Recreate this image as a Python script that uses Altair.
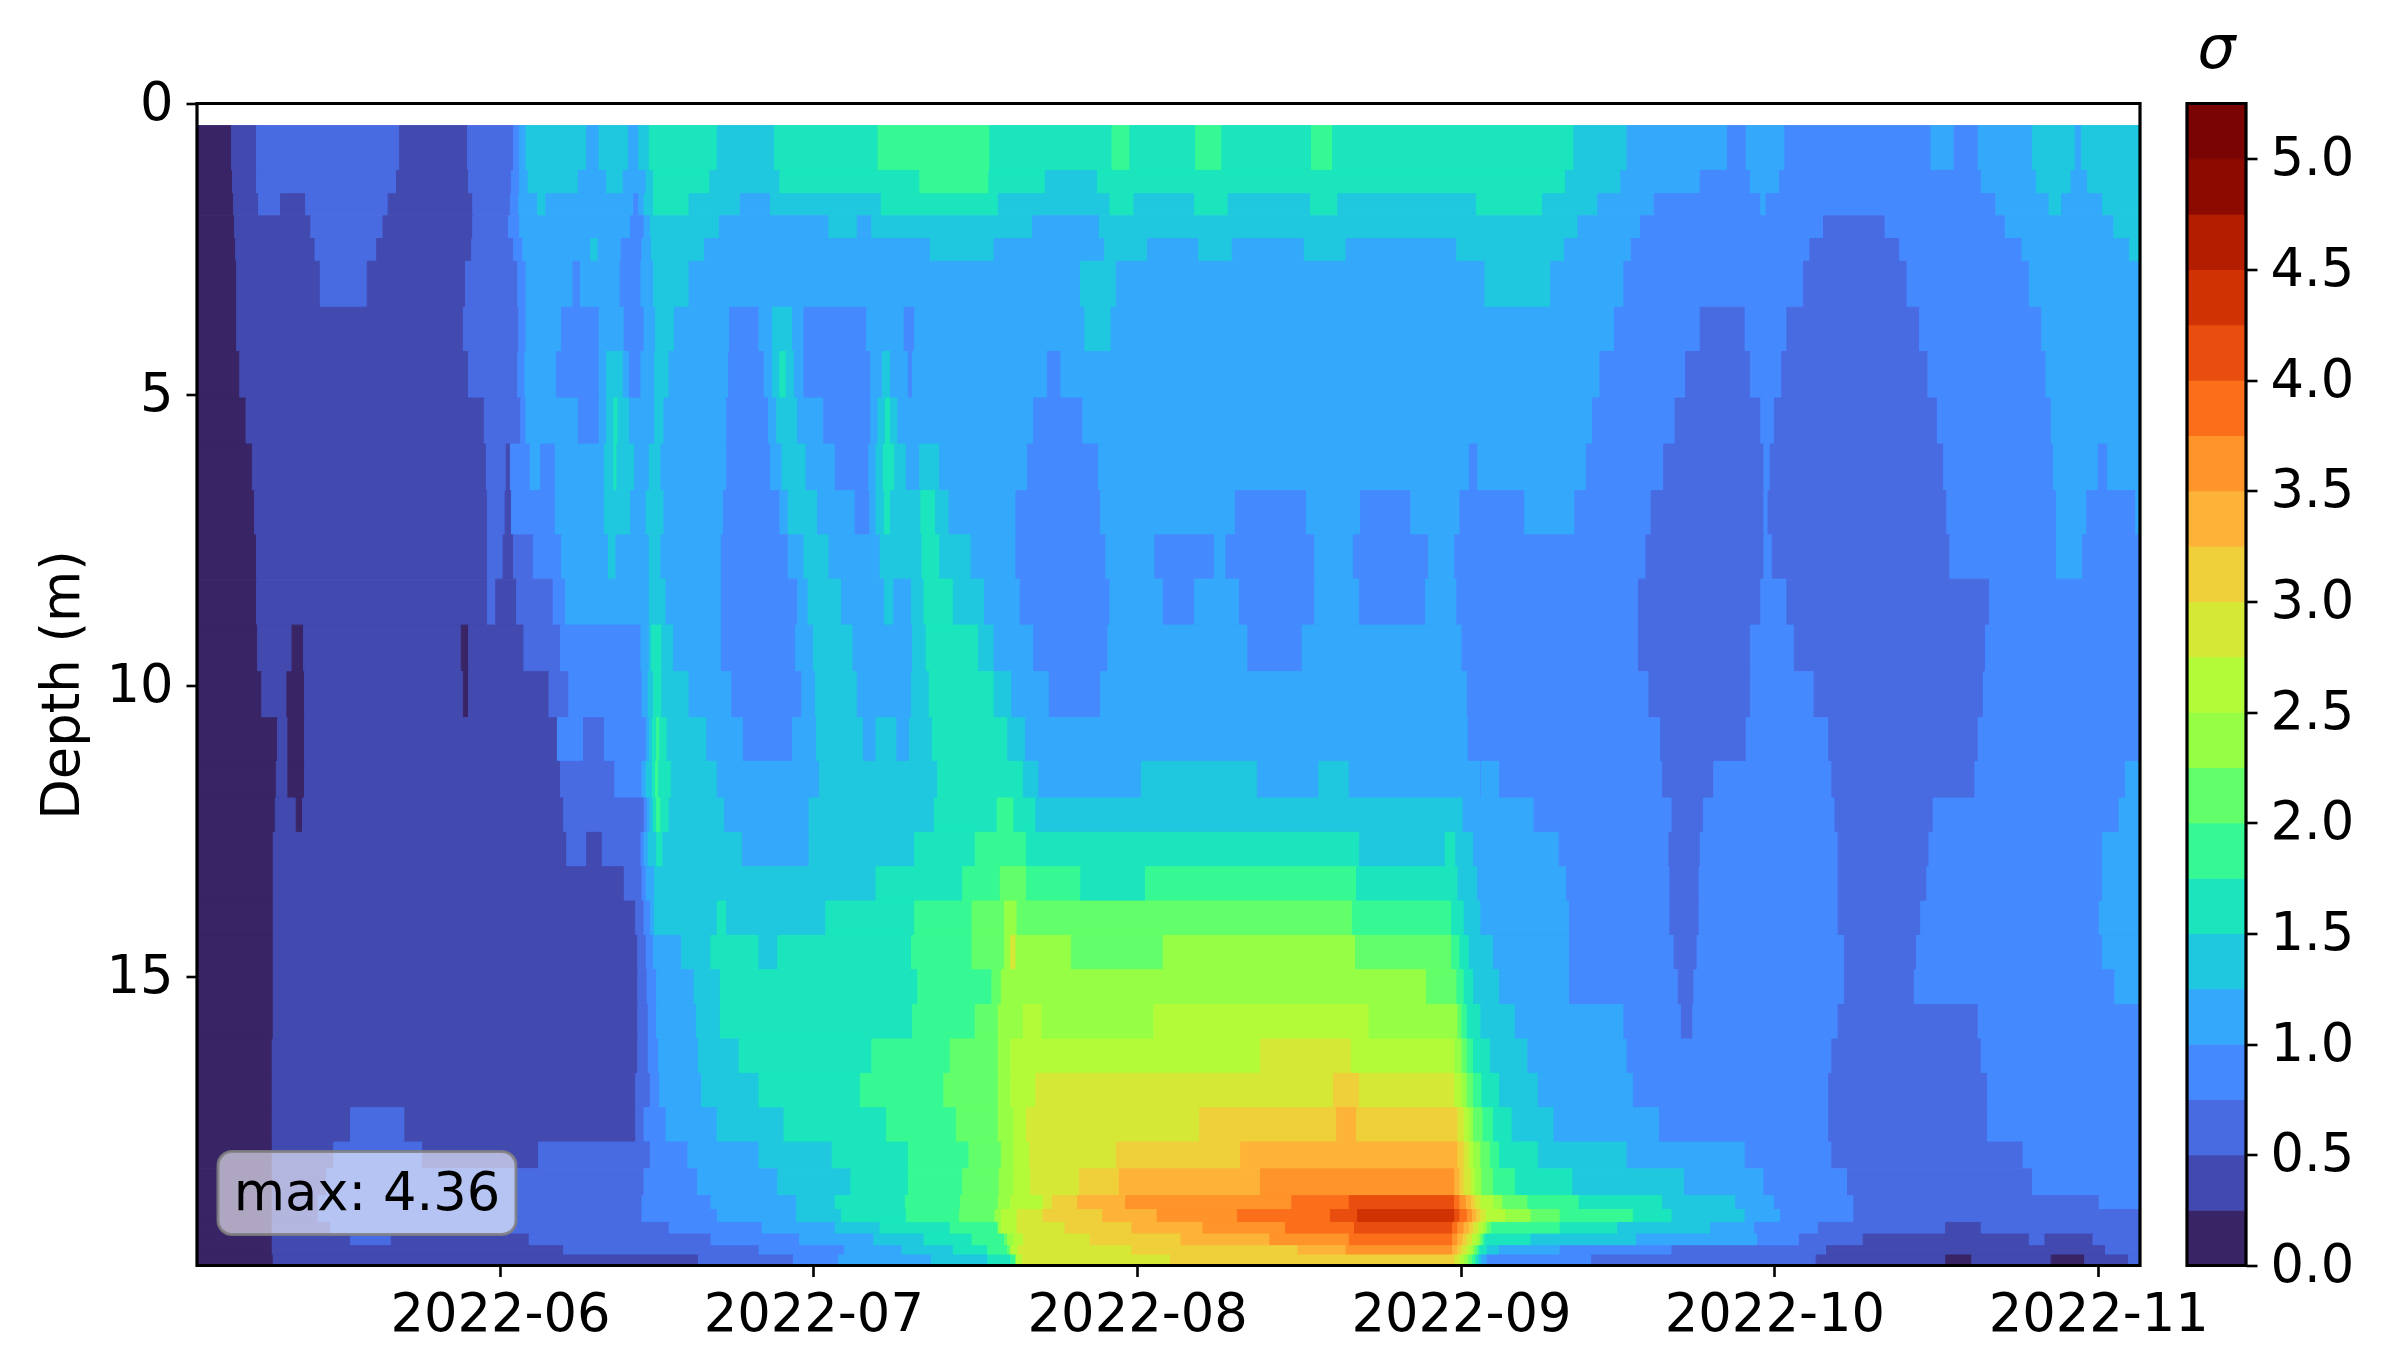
import altair as alt
import pandas as pd

START = pd.Timestamp("2022-05-03")
END_DAY = 186.0
MONTH_TICKS = ["2022-06-01T00:00:00", "2022-07-01T00:00:00", "2022-08-01T00:00:00",
               "2022-09-01T00:00:00", "2022-10-01T00:00:00", "2022-11-01T00:00:00"]
DEPTH_TICKS = [0, 5, 10, 15]
SIGMA_TICKS = [0.0, 0.5, 1.0, 1.5, 2.0, 2.5, 3.0, 3.5, 4.0, 4.5, 5.0]
LEVELS = [0.25 * i for i in range(22)]
COLORS = ["#392566", "#424AB0", "#486BE2", "#4589FF", "#34A8FA", "#1FC8DE", "#1BE5BC",
          "#37F994", "#63FF6A", "#96FF45", "#B3FB38", "#D5E836", "#EFCF3A", "#FDB337",
          "#FE942A", "#FB6F1B", "#E94E0E", "#D03204", "#B41E00", "#8D0A00", "#7A0403"]
MAX_LABEL = "max: 4.36"

DEPTH_EDGES = [0.38, 1.15, 1.55, 1.93, 2.32, 2.71, 3.50, 4.26, 5.06, 5.85, 6.65, 7.41, 8.17, 8.96, 9.76,
               10.55, 11.30, 11.93, 12.52, 13.11, 13.70, 14.29, 14.88, 15.48, 16.07, 16.66,
               17.25, 17.84, 18.30, 18.76, 19.00, 19.22, 19.42, 19.62, 19.78, 19.96]

# each profile: (sigma, day on which that value stops), days counted from 2022-05-03
p00 = [(.12,3.3),(.37,5.7),(.62,19.4),(.37,25.9),(.62,30.3),(.87,30.9),(1.12,31.5),(1.37,37.3),(1.12,38.5),(1.37,41.3),(1.12,42.3),(1.37,43.3),(1.62,49.8),(1.37,55.3),(1.62,65.2),(1.87,75.9),(1.62,87.6),(1.87,89.3),(1.62,95.6),(1.87,98.1),(1.62,106.7),(1.87,108.7),(1.62,131.8),(1.37,136.9),(1.12,146.5),(.87,148.3),(1.12,152),(.87,166),(1.12,168.2),(.87,170.5),(1.12,175.7),(1.37,179.8),(1.12,180.4),(1.37,186)]
p01a = [(.12,3.4),(.37,5.7),(.62,19.1),(.37,26),(.62,30.1),(.87,30.9),(1.12,31.7),(1.37,36.5),(1.12,39.2),(1.37,40.8),(1.12,43),(1.37,43.7),(1.62,49.1),(1.37,55.8),(1.62,69.2),(1.87,75.8),(1.62,81.2),(1.37,86.2),(1.62,131),(1.37,136.3),(1.12,143.9),(.87,148.7),(1.12,151.5),(.87,170.8),(1.12,176.1),(1.37,179.4),(1.12,181),(1.37,186)]
p01b = [(.12,3.5),(.37,5.9),(.62,8),(.37,10.4),(.62,18.3),(.37,26.4),(.62,30),(.87,30.8),(1.12,32.6),(1.37,33.4),(1.12,41.8),(.87,42.3),(1.12,42.8),(1.37,43.7),(1.62,47.1),(1.37,52),(1.12,54.9),(1.37,65.5),(1.62,76.7),(1.37,87.4),(1.62,89.7),(1.37,95.5),(1.62,98.7),(1.37,106.6),(1.62,109.2),(1.37,122.5),(1.62,128.8),(1.37,134.1),(1.12,139.5),(.87,149.7),(1.12,150.2),(.87,172.2),(1.12,177.3),(1.37,178.5),(1.12,182.4),(1.37,186)]
p02a = [(.12,3.6),(.37,10.9),(.62,17.8),(.37,26.4),(.62,29.8),(.87,30.9),(1.12,41.5),(.87,42.8),(1.12,43.4),(1.37,50),(1.12,60.5),(1.37,63.2),(1.12,64.6),(1.37,80),(1.12,86.4),(1.37,132.2),(1.12,138.2),(.87,155.7),(.62,161.6),(.87,173.1),(1.12,183.5),(1.37,186)]
p02b = [(.12,3.7),(.37,11.3),(.62,17.2),(.37,26.3),(.62,30.3),(.87,31.2),(1.12,37.7),(1.37,38.4),(1.12,40.6),(.87,42.6),(1.12,43.5),(1.37,48.6),(1.12,70.2),(1.37,76.3),(1.12,86.9),(1.37,91),(1.12,95.9),(1.37,99.1),(1.12,106),(1.37,110),(1.12,120.6),(1.37,130.9),(1.12,137.3),(.87,154.4),(.62,163),(.87,174.7),(1.12,185),(1.37,186)]
p03 = [(.12,3.8),(.37,11.8),(.62,16.3),(.37,25.7),(.62,30.7),(.87,31.5),(1.12,36),(.87,36.7),(1.12,40.5),(.87,42.5),(1.12,43.7),(1.37,47.1),(1.12,84.6),(1.37,88),(1.12,123.3),(1.37,129.6),(1.12,136.6),(.87,153.8),(.62,163.7),(.87,175.4),(1.12,186)]
p04 = [(.12,3.8),(.37,25.5),(.62,30.8),(.87,31.5),(1.12,34.9),(.87,38.5),(1.12,40.9),(.87,42.8),(1.12,43.9),(1.37,45.7),(1.12,51),(.87,53.8),(1.12,55.1),(1.37,57),(1.12,58.1),(.87,64.1),(1.12,67.7),(.87,68.7),(1.12,85),(1.37,87.5),(1.12,135.7),(.87,143.9),(.62,148.2),(.87,152.2),(.62,164.9),(.87,176.6),(1.12,186)]
p05 = [(.12,4.1),(.37,26),(.62,30.7),(.87,31.4),(1.12,34.4),(.87,38.5),(1.12,39.2),(1.37,40.8),(1.12,41.4),(.87,42.5),(1.12,43.8),(1.37,45.2),(1.12,50.9),(.87,54.3),(1.12,55.1),(1.37,55.8),(1.62,56.4),(1.37,57.2),(1.12,58.1),(.87,64.5),(1.12,65.6),(1.37,66.4),(1.12,68.1),(.87,68.5),(1.12,81.4),(.87,82.7),(1.12,134.3),(.87,142.5),(.62,148.7),(.87,151.7),(.62,165.7),(.87,177),(1.12,186)]
p06 = [(.12,4.7),(.37,27.5),(.62,31),(.87,31.5),(1.12,36.5),(.87,38.5),(1.12,39.2),(1.37,39.9),(1.62,40.3),(1.37,41.4),(1.12,43.8),(1.37,44.7),(1.12,50.7),(.87,54.7),(1.12,55.5),(1.37,57.5),(1.12,60),(.87,64.5),(1.12,65.2),(1.37,65.9),(1.62,66.4),(1.37,67.1),(1.12,80.1),(.87,84.8),(1.12,133.6),(.87,141.5),(.62,149.7),(.87,151),(.62,166.6),(.87,177.5),(1.12,186)]
p07 = [(.12,5.3),(.37,27.7),(.62,29.6),(.37,30),(.87,31.9),(1.12,32.9),(.87,34.3),(1.12,39),(1.37,39.9),(1.62,40.2),(1.37,41.9),(1.12,43.3),(1.37,44.4),(1.12,50.7),(.87,54.9),(1.12,56),(1.37,58.3),(1.12,61.1),(.87,64.3),(1.12,65),(1.37,65.7),(1.62,66.8),(1.37,67.9),(1.12,69.2),(1.37,71.1),(1.12,79.5),(.87,86.3),(1.12,121.8),(.87,122.6),(1.12,133),(.87,140.4),(.62,150),(.87,150.6),(.62,167.2),(.87,177.7),(1.12,182),(.87,182.9),(1.12,186)]
p08 = [(.12,5.5),(.37,27.8),(.62,29.5),(.37,30.1),(.87,34.3),(1.12,39),(1.37,41.5),(1.12,43),(1.37,44.7),(1.12,50.4),(.87,55.8),(1.12,56.6),(1.37,59.4),(1.12,63),(.87,64.4),(1.12,65),(1.37,65.8),(1.62,66.4),(1.37,69.3),(1.62,70.7),(1.37,72),(1.12,78.4),(.87,86.5),(1.12,99.4),(.87,106.2),(1.12,111.4),(.87,116.2),(1.12,120.9),(.87,127.1),(1.12,131.9),(.87,139.2),(.62,150),(.87,150.4),(.62,167.5),(.87,178),(1.12,180.9),(.87,185.6),(1.12,186)]
p09 = [(.12,5.7),(.37,27.8),(.62,29.3),(.37,30.3),(.62,32.2),(.87,34.9),(1.12,39.4),(1.37,40.1),(1.12,43.3),(1.37,44.4),(1.12,50.2),(.87,56.6),(1.12,58.1),(1.37,60.5),(1.12,65.4),(1.37,69.4),(1.62,71.1),(1.37,74.1),(1.12,78.4),(.87,87),(1.12,91.7),(.87,97.4),(1.12,98.5),(.87,107),(1.12,110.7),(.87,117.9),(1.12,120.4),(.87,138.7),(.62,150),(.87,150.8),(.62,167.8),(.87,178),(1.12,180.5),(.87,186)]
p10 = [(.12,5.7),(.37,27.8),(.62,28.6),(.37,30.6),(.62,34.1),(.87,35.3),(1.12,43.3),(1.37,44.9),(1.12,50.2),(.87,57.5),(1.12,58.5),(1.37,61.7),(1.12,65.8),(1.37,66.7),(1.12,68.4),(1.37,69.6),(1.62,72.4),(1.37,75.4),(1.12,78.8),(.87,87.4),(1.12,92.5),(.87,95.5),(1.12,99.8),(.87,107),(1.12,111.3),(.87,117.6),(1.12,120.6),(.87,138),(.62,149.7),(.87,152.2),(.62,171.6),(.87,186)]
p11 = [(.12,5.8),(.37,9.1),(.12,10.2),(.37,25.3),(.12,26),(.37,31.3),(.62,34.8),(.87,42.5),(1.12,43.3),(1.37,43.5),(1.62,44.5),(1.37,45.6),(1.12,50.2),(.87,57.3),(1.12,59),(1.37,62.8),(1.12,68.5),(1.37,69.8),(1.62,74.8),(1.37,76.3),(1.12,80.1),(.87,87.2),(1.12,100.6),(.87,105.8),(1.12,121.1),(.87,138),(.62,148.7),(.87,152.9),(.62,171.2),(.87,186)]
p12 = [(.12,6.2),(.37,8.6),(.12,10.3),(.37,25.5),(.12,26),(.37,33.7),(.62,35.6),(.87,42.6),(1.12,43.2),(1.37,43.7),(1.62,44.5),(1.37,47.1),(1.12,51.2),(.87,57.9),(1.12,59.2),(1.37,63.2),(1.12,68.4),(1.37,70.1),(1.62,76.3),(1.37,78),(1.12,81.6),(.87,86.5),(1.12,121.6),(.87,139),(.62,148.7),(.87,154.8),(.62,171),(.87,186)]
p13 = [(.12,7.7),(.37,8.7),(.12,10.3),(.37,34.5),(.87,37),(.62,39),(.87,43),(1.12,43.3),(1.37,43.6),(1.62,44),(1.87,44.3),(1.62,45),(1.37,48.8),(1.12,52.3),(.87,57),(1.12,59.3),(1.37,63.8),(1.12,65),(1.37,67),(1.12,68.2),(1.37,70.4),(1.62,77.6),(1.37,79.3),(1.12,121.7),(.87,140.1),(.62,148.3),(.87,156.2),(.62,170.5),(.87,186)]
p14 = [(.12,7.6),(.37,8.7),(.12,10.3),(.37,34.8),(.62,40),(.87,42.6),(1.12,43),(1.37,43.6),(1.62,43.9),(1.87,44.2),(1.62,45.4),(1.37,49.8),(1.12,59.6),(1.37,70.9),(1.62,79.1),(1.37,80.6),(1.12,90.4),(1.37,101.5),(1.12,107.4),(1.37,110.3),(1.12,122.9),(.87,122.95),(1.12,124.7),(.87,140.3),(.62,145.2),(.87,156.5),(.62,170.2),(.87,184.6),(1.12,186)]
p15 = [(.12,7.5),(.37,9.5),(.12,10.1),(.37,35.1),(.62,42.8),(.87,43.1),(1.12,43.4),(1.37,43.7),(1.62,44),(1.87,44.4),(1.62,45.2),(1.37,50.5),(1.12,58.6),(1.37,70.6),(1.62,76.6),(1.87,78.2),(1.62,80.3),(1.37,121.2),(1.12,128),(.87,141.2),(.62,144.2),(.87,156.8),(.62,166.2),(.87,184),(1.12,186)]
p16 = [(.12,7.3),(.37,35.4),(.62,37.3),(.37,38.8),(.62,42.5),(.87,42.8),(1.12,43.2),(1.37,44),(1.62,44.6),(1.37,52.2),(1.12,58.6),(1.37,68.7),(1.62,74.5),(1.87,79.4),(1.62,111.3),(1.37,119.5),(1.62,120.5),(1.37,122.2),(1.12,130.4),(.87,140.9),(.62,143.9),(.87,157.1),(.62,165.8),(.87,182.4),(1.12,186)]
p17 = [(.12,7.3),(.37,40.9),(.62,42.6),(.87,43),(1.12,43.8),(1.37,65),(1.62,73.3),(1.87,76.9),(2.12,79.4),(1.87,84.6),(1.62,90.8),(1.87,111),(1.62,120.7),(1.37,122.6),(1.12,131.1),(.87,141),(.62,143.8),(.87,157.1),(.62,165.6),(.87,182.4),(1.12,186)]
p18 = [(.12,7.3),(.37,42),(.62,42.8),(.87,43.4),(1.12,43.8),(1.37,49.8),(1.62,50.7),(1.37,60.2),(1.62,68.7),(1.87,74.2),(2.12,77.3),(2.37,78.5),(2.12,110.6),(1.87,120.1),(1.62,121.3),(1.37,122.9),(1.12,131.4),(.87,141),(.62,143.8),(.87,157.1),(.62,165),(.87,182.1),(1.12,186)]
p19 = [(.12,7.3),(.37,42.2),(.62,43),(.87,43.7),(1.12,46.4),(1.37,49.2),(1.62,53.8),(1.37,55.6),(1.62,68.4),(1.87,74.2),(2.12,77.3),(2.37,77.9),(2.87,78.4),(2.37,83.7),(2.12,92.5),(2.37,110.9),(2.12,120.1),(1.87,120.9),(1.62,121.8),(1.37,124.1),(1.12,131.4),(.87,141.4),(.62,143.6),(.87,157.7),(.62,164.6),(.87,182.4),(1.12,186)]
p20 = [(.12,7.3),(.37,42.2),(.62,43.1),(.87,44),(1.12,47.6),(1.37,50.1),(1.62,69),(1.87,76.1),(2.12,77),(2.37,117.7),(2.12,120.6),(1.87,121.3),(1.62,122.2),(1.37,124.7),(1.12,131.4),(.87,141.8),(.62,143.3),(.87,157.7),(.62,164.4),(.87,183.6),(1.12,186)]
p21 = [(.12,7.3),(.37,42.2),(.62,43.2),(.87,44),(1.12,47.8),(1.37,50.1),(1.62,68.5),(1.87,74.5),(2.12,76.7),(2.37,79.1),(2.62,80.9),(2.37,91.6),(2.62,112.2),(2.37,120.7),(2.12,121.1),(1.87,121.6),(1.62,122.9),(1.37,126.2),(1.12,136.6),(.87,142.1),(.62,143.2),(.87,157.1),(.62,170.5),(.87,186)]
p22 = [(.12,7.2),(.37,42.2),(.62,43.2),(.87,44.2),(1.12,48),(1.37,51.9),(1.62,64.6),(1.87,72.1),(2.12,76.7),(2.37,77.9),(2.62,101.8),(2.87,110.5),(2.62,120.4),(2.37,121.1),(2.12,121.6),(1.87,122.2),(1.62,123.8),(1.37,127.4),(1.12,136.9),(.87,156.5),(.62,170.8),(.87,186)]
p23 = [(.12,7.2),(.37,42),(.62,43.4),(.87,44.3),(1.12,48.3),(1.37,53.8),(1.62,63.5),(1.87,71.5),(2.12,76.7),(2.37,77.9),(2.62,80.3),(2.87,108.8),(3.12,111.3),(2.87,120.4),(2.62,121.1),(2.37,121.6),(2.12,122.2),(1.87,123),(1.62,124.7),(1.37,128.4),(1.12,137.5),(.87,156.2),(.62,171.4),(.87,186)]
p24 = [(.12,7.2),(.37,14.7),(.62,19.9),(.37,42),(.62,42.8),(.87,44.9),(1.12,49.8),(1.37,56.2),(1.62,66),(1.87,72.7),(2.12,76.7),(2.37,78.2),(2.62,79.4),(2.87,96),(3.12,109.1),(3.37,111),(3.12,120.7),(2.87,121.3),(2.62,121.8),(2.37,122.2),(2.12,123.1),(1.87,124.1),(1.62,125.9),(1.37,129.9),(1.12,140),(.87,156.2),(.62,171.4),(.87,186)]
p25 = [(.12,7.2),(.37,13.1),(.62,21.6),(.37,32.7),(.62,43.4),(.87,47),(1.12,53.8),(1.37,60.8),(1.62,68.1),(1.87,73.9),(2.12,77),(2.37,78.2),(2.62,79.7),(2.87,88),(3.12,99.9),(3.37,120.7),(3.12,121.3),(2.87,121.8),(2.62,122.2),(2.37,122.9),(2.12,123.8),(1.87,124.7),(1.62,128.4),(1.37,136.9),(1.12,148.2),(.87,156.5),(.62,174.8),(.87,186)]
p26 = [(.12,7.2),(.37,12.4),(.62,42.8),(.87,47.9),(1.12,55.6),(1.37,62.6),(1.62,68.1),(1.87,73.3),(2.12,76.8),(2.37,78.2),(2.62,79.8),(2.87,84.5),(3.12,88.3),(3.37,101.8),(3.62,120.4),(3.37,120.9),(3.12,121.3),(2.87,122),(2.62,122.4),(2.37,123),(2.12,124.1),(1.87,126.2),(1.62,131.7),(1.37,142.4),(1.12,150),(.87,158),(.62,175.7),(.87,186)]
p27 = [(.12,7.2),(.37,11.6),(.62,42.6),(.87,49.2),(1.12,57.4),(1.37,61.1),(1.62,67.8),(1.87,73.1),(2.12,76.7),(2.37,77.9),(2.62,81),(2.87,81.9),(3.12,84.3),(3.37,88.9),(3.62,104.8),(3.87,110.3),(4.12,120.4),(3.87,120.9),(3.62,121.5),(3.37,122),(3.12,122.4),(2.87,122.9),(2.62,124.1),(2.37,125),(2.12,127.4),(1.87,132.3),(1.62,140.3),(1.37,147.3),(1.12,151),(.87,158.6),(.62,182.1),(.87,186)]
p28 = [(.12,7.2),(.37,11.6),(.62,42.6),(.87,49.8),(1.12,57.4),(1.37,61.7),(1.62,67.9),(1.87,73),(2.12,76.4),(2.37,77),(2.62,78.5),(2.87,81),(3.12,86.7),(3.37,91.9),(3.62,99.6),(3.87,108.5),(4.12,111.1),(4.36,120.4),(4.12,120.9),(3.87,121.6),(3.62,122.1),(3.37,122.5),(3.12,122.9),(2.87,123.4),(2.62,125.3),(2.37,127.7),(2.12,130.5),(1.87,137.5),(1.62,141.2),(1.37,148.2),(1.12,151.6),(.87,158.6),(.62,186)]
p29 = [(.12,7.2),(.37,12.8),(.62,45.2),(.87,54.1),(1.12,61.1),(1.37,65.4),(1.62,72.1),(1.87,76.7),(2.37,77),(2.62,78.5),(2.87,83.1),(3.12,89.5),(3.37,96.3),(3.62,104.2),(3.87,110.8),(4.12,120.2),(3.87,120.7),(3.62,121.3),(3.37,121.8),(3.12,122.2),(2.87,122.7),(2.62,123.2),(2.37,123.5),(2.12,123.9),(1.87,130.5),(1.62,136),(1.37,144.9),(1.12,149.1),(.87,155.2),(.62,167.4),(.37,170.8),(.62,186)]
p30 = [(.12,7.2),(.37,14.7),(.62,18.6),(.37,31.8),(.62,49.2),(.87,57.7),(1.12,64.8),(1.37,69.6),(1.62,74.2),(1.87,77.3),(2.12,77.6),(2.37,78.2),(2.62,79.1),(2.87,85.5),(3.12,94.2),(3.37,102.7),(3.62,110.3),(3.87,120.2),(3.62,120.7),(3.37,121.2),(3.12,121.6),(2.87,122.1),(2.62,122.6),(2.37,122.9),(2.12,123.1),(1.87,123.3),(1.62,127.7),(1.37,137.8),(1.12,149.4),(.87,153.4),(.62,159.5),(.37,175.4),(.62,176.9),(.37,181.5),(.62,186)]
p31 = [(.12,7.2),(.37,35.1),(.62,53.8),(.87,62),(1.12,67.5),(1.37,72.4),(1.62,75.7),(1.87,77.6),(2.12,77.9),(2.62,78.6),(2.87,89.5),(3.12,105.4),(3.37,110),(3.62,120.2),(3.37,120.7),(3.12,121.1),(2.87,121.6),(2.62,122),(2.37,122.3),(2.12,122.6),(1.87,122.8),(1.62,123.5),(1.37,124.7),(1.12,130.5),(.87,141.2),(.62,156),(.37,182.7),(.62,186)]
p32 = [(.12,7.3),(.37,48),(.62,57.1),(.87,61.4),(1.12,70.3),(1.37,75.7),(1.62,77.9),(1.87,78.4),(2.62,79),(2.87,93.2),(3.12,120.4),(2.87,120.9),(2.62,121.3),(2.37,121.7),(2.12,122.1),(1.87,122.4),(1.62,122.7),(1.37,123),(1.12,123.5),(.87,133.5),(.62,155),(.37,167.4),(.12,169.9),(.37,177.5),(.12,180.7),(.37,184.9),(.62,186)]

PROFILES = [p00, p01a, p01b, p02a, p02b, p03, p04, p05, p06, p07, p08, p09, p10, p11, p12, p13, p14, p15,
            p16, p17, p18, p19, p20, p21, p22, p23, p24, p25, p26, p27, p28, p29, p30, p31, p32]


def stamp(day):
    return (START + pd.Timedelta(days=float(day))).strftime("%Y-%m-%dT%H:%M:%S")


records = []
for k, prof in enumerate(PROFILES):
    t0 = 0.0
    for sigma, t1 in prof:
        records.append({"t0": stamp(t0), "t1": stamp(t1), "d0": DEPTH_EDGES[k],
                        "d1": DEPTH_EDGES[k + 1], "sigma": sigma})
        t0 = t1
cells = pd.DataFrame(records)

W, H = 1943, 1162
FONT = "DejaVu Sans"
FS = 52.7
color_scale = alt.Scale(type="threshold", domain=LEVELS[1:-1], range=COLORS)

x_scale = alt.Scale(domain=[stamp(0), stamp(END_DAY)], nice=False)
y_scale = alt.Scale(domain=[0, 19.96], reverse=True, nice=False, zero=False)

heat = alt.Chart(cells).mark_rect(clip=True, strokeWidth=1).encode(
    x=alt.X("t0:T", scale=x_scale, title=None,
            axis=alt.Axis(values=MONTH_TICKS, format="%Y-%m", grid=False, labelFont=FONT,
                          labelFontSize=FS, labelColor="black", labelAngle=0, labelPadding=12,
                          tickColor="black", tickSize=11, tickWidth=2.6, domain=False,
                          labelFlush=False, labelOverlap=False, labelBound=False, labelLimit=0)),
    x2="t1:T",
    y=alt.Y("d0:Q", scale=y_scale, title="Depth (m)",
            axis=alt.Axis(values=DEPTH_TICKS, format="d", grid=False, labelFont=FONT,
                          labelFontSize=FS, labelColor="black", labelPadding=13,
                          titleFont=FONT, titleFontSize=FS, titleFontWeight="normal",
                          titleColor="black", titlePadding=16, tickColor="black", tickSize=11,
                          tickWidth=2.6, domain=False)),
    y2="d1:Q",
    color=alt.Color("sigma:Q", scale=color_scale, legend=None),
    stroke=alt.Stroke("sigma:Q", scale=color_scale, legend=None),
)

frame = alt.Chart(pd.DataFrame({"a": [0]})).mark_rect(
    filled=False, stroke="black", strokeWidth=3.2
).encode(x=alt.value(0), x2=alt.value(W), y=alt.value(0), y2=alt.value(H))

label_df = pd.DataFrame({"label": [MAX_LABEL]})
box = alt.Chart(label_df).mark_rect(
    fill="white", fillOpacity=0.6, stroke="#808080", strokeOpacity=0.85, strokeWidth=3,
    cornerRadius=14
).encode(x=alt.value(21), x2=alt.value(319), y=alt.value(1048), y2=alt.value(1131))
text = alt.Chart(label_df).mark_text(
    font=FONT, fontSize=FS, color="black", align="center", baseline="middle"
).encode(x=alt.value(170), y=alt.value(1090), text="label:N")

main = alt.layer(heat, frame, box, text).properties(width=W, height=H)

bands = pd.DataFrame({"lo": LEVELS[:-1], "hi": LEVELS[1:],
                      "mid": [(a + b) / 2 for a, b in zip(LEVELS[:-1], LEVELS[1:])]})
CW = 59
bar = alt.Chart(bands).mark_rect(strokeWidth=1, clip=True).encode(
    x=alt.value(0), x2=alt.value(CW),
    y=alt.Y("lo:Q", scale=alt.Scale(domain=[0, 5.25], nice=False, zero=False), title=None,
            axis=alt.Axis(orient="right", values=SIGMA_TICKS, format=".1f", grid=False,
                          labelFont=FONT, labelFontSize=FS, labelColor="black", labelPadding=13,
                          tickColor="black", tickSize=11, tickWidth=2.6, domain=False)),
    y2="hi:Q",
    color=alt.Color("mid:Q", scale=color_scale, legend=None),
    stroke=alt.Stroke("mid:Q", scale=color_scale, legend=None),
)
cframe = alt.Chart(pd.DataFrame({"a": [0]})).mark_rect(
    filled=False, stroke="black", strokeWidth=3.2
).encode(x=alt.value(0), x2=alt.value(CW), y=alt.value(0), y2=alt.value(H))
cbar = alt.layer(bar, cframe).properties(
    width=CW, height=H,
    title=alt.TitleParams("σ", font=FONT, fontStyle="italic", fontWeight="normal", fontSize=60,
                          color="black", anchor="middle", offset=21),
)

chart = alt.hconcat(main, cbar, spacing=47, bounds="flush").properties(
    padding={"left": 28, "top": 11.5, "right": 0, "bottom": 0}
).configure_view(stroke=None).resolve_scale(color="independent")

chart.save("out.html", embed_options={"renderer": "svg", "actions": False})
